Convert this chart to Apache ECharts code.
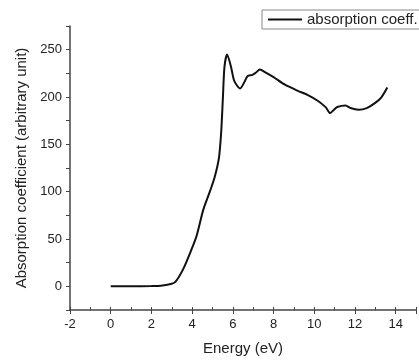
<!DOCTYPE html>
<html>
<head>
<meta charset="utf-8">
<script src="https://cdn.jsdelivr.net/npm/echarts@6/dist/echarts.min.js"></script>
<style>html,body{margin:0;padding:0;background:#fff}#c{width:419px;height:361px}</style>
</head>
<body>
<div id="c"></div>
<script>
var energy = [0, 1.0, 2.0, 2.46, 2.95, 3.18, 3.58, 3.99, 4.23, 4.55, 4.87, 5.11, 5.32, 5.43, 5.51, 5.59, 5.72, 5.91, 6.07, 6.36, 6.55, 6.72, 6.96, 7.12, 7.33, 7.6, 8.0, 8.56, 9.2, 9.69, 10.17, 10.57, 10.78, 10.97, 11.13, 11.54, 11.78, 12.18, 12.58, 12.98, 13.3, 13.59];
var absorption = [0, 0.1, 0.3, 0.6, 2.5, 4.8, 19, 40, 54, 81, 100, 115.5, 136, 163.6, 198, 232, 245, 232, 217, 209, 215, 222, 223.4, 225.5, 229, 226, 221, 213, 206.5, 202, 196, 189, 183, 186.6, 189.4, 191, 188.3, 186.6, 188.3, 193.5, 199.7, 210];
var seriesName = 'absorption coeff.';
var xTitle = 'Energy (eV)';
var yTitle = 'Absorption coefficient (arbitrary unit)';

var data = energy.map(function (e, i) { return [e, absorption[i]]; });
var font = 'Liberation Sans, Arial, sans-serif';
var chart = echarts.init(document.getElementById('c'), null, {renderer: 'canvas'});
chart.setOption({
  animation: false,
  backgroundColor: '#fff',
  legend: {
    data: [{name: seriesName, icon: 'rect'}],
    left: 262, top: 10,
    padding: [2, 6, 2, 6],
    itemWidth: 34, itemHeight: 2,
    itemGap: 4,
    borderColor: '#888', borderWidth: 1,
    textStyle: {fontFamily: font, fontSize: 15, color: '#222', padding: [0, 0, 0, 0]}
  },
  grid: {left: 70, right: -4, top: 26, bottom: 45, containLabel: false},
  xAxis: [{
    type: 'value', min: -2, max: 15, interval: 2,
    name: xTitle, nameLocation: 'middle', nameGap: 31,
    nameTextStyle: {fontFamily: font, fontSize: 15, color: '#222'},
    axisLine: {show: true, onZero: false, lineStyle: {color: '#444', width: 1.5}},
    axisTick: {show: true, inside: false, length: 4, lineStyle: {color: '#444'}},
    axisLabel: {fontFamily: font, fontSize: 13, color: '#222', margin: 8,
      formatter: function (v) { return (v % 2 === 0 && v <= 14) ? String(v) : ''; }},
    splitLine: {show: false}
  }, {
    type: 'value', min: -2, max: 15, interval: 1, position: 'bottom',
    axisLine: {show: false, onZero: false},
    axisTick: {show: true, inside: true, length: 3, lineStyle: {color: '#444'}},
    axisLabel: {show: false},
    splitLine: {show: false}
  }],
  yAxis: {
    type: 'value', min: -25, max: 275, interval: 25,
    name: yTitle, nameLocation: 'middle', nameGap: 33,
    nameTextStyle: {fontFamily: font, fontSize: 15, color: '#222'},
    axisLine: {show: true, onZero: false, lineStyle: {color: '#444', width: 1.5}},
    axisTick: {show: true, inside: false, length: 4, lineStyle: {color: '#444'}},
    axisLabel: {fontFamily: font, fontSize: 13, color: '#222', margin: 8,
      formatter: function (v) { return (v % 50 === 0 && v >= 0 && v <= 250) ? String(v) : ''; }},
    splitLine: {show: false}
  },
  series: [{
    name: seriesName, type: 'line', data: data, xAxisIndex: 0,
    smooth: 0.25, symbol: 'none',
    lineStyle: {color: '#111', width: 2},
    itemStyle: {color: '#111'}
  }]
});
</script>
</body>
</html>
